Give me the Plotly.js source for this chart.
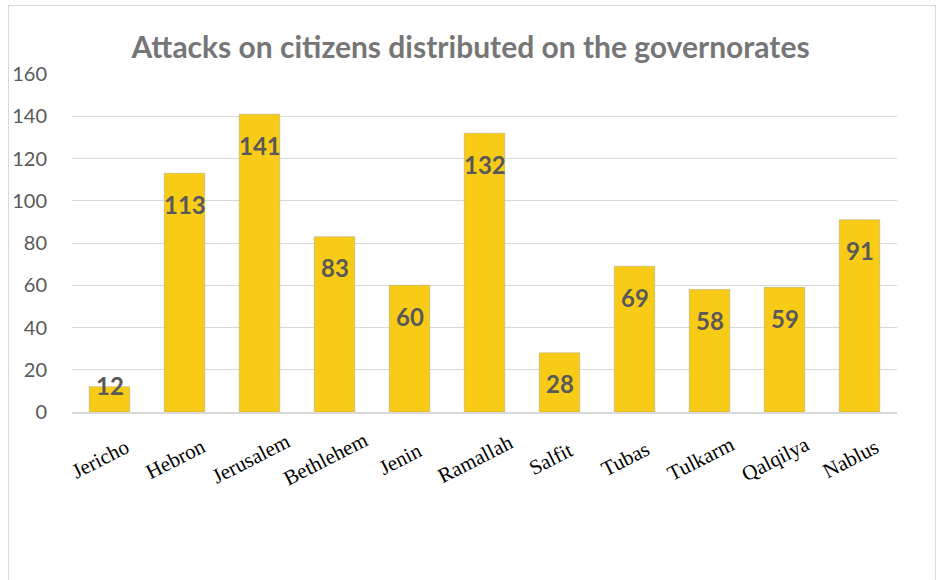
<!DOCTYPE html>
<html>
<head>
<meta charset="utf-8">
<script src="https://cdn.plot.ly/plotly-3.0.1.min.js"></script>
<style>
html,body{margin:0;padding:0;background:#fff;}
#wrap{position:relative;width:941px;height:580px;overflow:hidden;}
#chart{position:absolute;left:0;top:0;width:941px;height:580px;}
#frame{position:absolute;left:8px;top:5px;width:926px;height:600px;border:1px solid #d9d9d9;pointer-events:none;}
</style>
</head>
<body>
<div id="wrap"><div id="chart"></div><div id="frame"></div></div>
<script>
const categories = ["Jericho","Hebron","Jerusalem","Bethlehem","Jenin","Ramallah","Salfit","Tubas","Tulkarm","Qalqilya","Nablus"];
const attacks = [12,113,141,83,60,132,28,69,58,59,91];
const yTicks = [0,20,40,60,80,100,120,140,160];
const chartTitle = "Attacks on citizens distributed on the governorates";

const trace = {
  type: 'bar',
  x: categories,
  y: attacks,
  marker: {color: '#F8CC16', line: {color: 'rgba(140,140,140,0.35)', width: 1}},
  hoverinfo: 'x+y'
};

// value labels near the top inside each bar
const valueLabels = attacks.map((v, i) => ({
  x: categories[i], y: v, xref: 'x', yref: 'y',
  text: String(v), showarrow: false,
  yanchor: 'middle', yshift: v > 20 ? -31 : 1,
  font: {family: 'Lato, Roboto, sans-serif', size: 24, color: '#595959', weight: 'bold'}
}));

// rotated category labels (centred below each category, like the source)
const categoryLabels = categories.map(c => ({
  x: c, y: 0, xref: 'x', yref: 'y',
  text: c, showarrow: false, textangle: -27,
  xanchor: 'center', yanchor: 'middle',
  xshift: -9, yshift: -47,
  font: {family: '"Liberation Serif", "DejaVu Serif", serif', size: 21, color: '#000000'}
}));

const layout = {
  width: 941, height: 580,
  margin: {l: 72, r: 44, t: 74, b: 168},
  paper_bgcolor: '#ffffff', plot_bgcolor: '#ffffff',
  showlegend: false,
  bargap: 0.46,
  title: {
    text: '<b>' + chartTitle + '</b>',
    x: 0.5, xref: 'container', xanchor: 'center',
    y: 1 - 47/580, yref: 'container', yanchor: 'middle',
    font: {family: 'Lato, "Open Sans", sans-serif', size: 30, color: '#767676'}
  },
  xaxis: {
    type: 'category',
    range: [-0.5, categories.length - 0.5],
    autorange: false,
    automargin: false,
    showticklabels: false,
    showgrid: false, zeroline: false,
    showline: true, linecolor: '#d9d9d9', linewidth: 2,
    ticks: ''
  },
  yaxis: {
    automargin: false,
    range: [0, 160],
    autorange: false,
    tickvals: yTicks,
    ticktext: yTicks.map(String),
    tickfont: {family: 'Lato, sans-serif', size: 20, color: '#595959'},
    showgrid: true, gridcolor: '#d9d9d9', gridwidth: 1,
    zeroline: false, showline: false, ticks: '',
    ticklabelstandoff: 24
  },
  annotations: valueLabels.concat(categoryLabels)
};

Plotly.newPlot('chart', [trace], layout, {displayModeBar: false, staticPlot: true});
</script>
</body>
</html>
